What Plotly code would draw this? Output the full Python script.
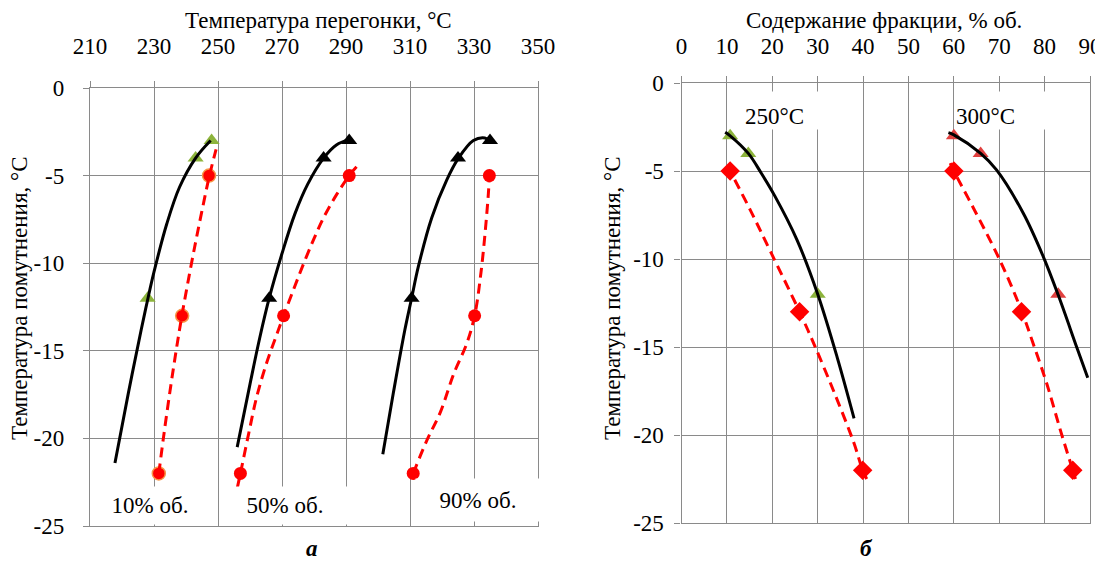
import plotly.graph_objects as go

# page body adds an 8px margin; the figure is sized and positioned to compensate
OFF = 8
W, H = 1103 - OFF, 565 - OFF

# ---------------- axis ticks ----------------
temp_ticks = [210, 230, 250, 270, 290, 310, 330, 350]
frac_ticks = [0, 10, 20, 30, 40, 50, 60, 70, 80, 90]
cloud_ticks = [0, -5, -10, -15, -20, -25]
cloud_tick_labels = ["0", "-5", "-10", "-15", "-20", "-25"]

# ---------------- panel a: markers ----------------
tri_cloud = [-12, -4, -3]
cir_cloud = [-22, -13, -5]
t10_tri = [228, 243, 248]
t10_cir = [231.5, 238.8, 247.2]
t50_tri = [266, 283, 291]
t50_cir = [257, 270.5, 291]
t90_tri = [310.5, 325, 335]
t90_cir = [311, 330.2, 334.8]

# ---------------- panel a: trend curves ----------------
c10_black_t = [217.8, 222, 226, 228, 230, 234, 238, 243, 247.7]
c10_black_y = [-21.4, -17.4, -13.8, -12.1, -10.5, -7.75, -5.65, -4.0, -3.0]
c10_red_t = [231.5, 233, 235, 237, 238.8, 241, 243, 245, 247.2, 249.4]
c10_red_y = [-22.0, -19.9, -17.3, -14.9, -12.9, -10.7, -8.8, -7.0, -5.1, -3.5]
c50_black_t = [256, 260, 263, 266, 270, 274, 278, 283, 287, 291]
c50_black_y = [-20.5, -16.9, -14.3, -12.0, -9.45, -7.2, -5.5, -4.0, -3.25, -2.95]
c50_red_t = [256, 257, 259.5, 262, 265, 268, 270.5, 273.5, 276.7, 280, 283, 287, 291, 293.3]
c50_red_y = [-22.85, -22.0, -19.8, -17.7, -15.8, -14.25, -13.0, -11.55, -10.05, -8.6, -7.4, -6.1, -5.0, -4.5]
c90_black_t = [301.5, 304.8, 308.4, 310.5, 312.6, 316.8, 321.5, 325, 329.8, 333.4, 335.2]
c90_black_y = [-20.9, -17.4, -13.8, -12.0, -10.2, -7.4, -5.25, -4.05, -3.0, -2.85, -3.05]
c90_red_t = [311, 315.3, 319.5, 323.7, 327.7, 330.2, 332.2, 333.6, 334.5, 334.8]
c90_red_y = [-22.0, -20.1, -18.5, -16.3, -14.6, -13.0, -10.5, -8.0, -6.0, -5.0]

# ---------------- panel б: markers ----------------
tri_cloud_r = [-3, -4, -12]
dia_cloud_r = [-5, -13, -22]
f250_tri = [10.7, 14.7, 30.0]
f250_dia = [10.7, 26.0, 39.9]
f300_tri = [60.0, 65.9, 83.0]
f300_dia = [60.0, 74.9, 86.2]

# ---------------- panel б: trend curves ----------------
r250_black_x = [9.6, 10.7, 14.7, 17.5, 20.5, 25.4, 30.0, 34.3, 38.0]
r250_black_y = [-2.8, -3.0, -4.0, -5.1, -6.4, -8.9, -12.0, -15.6, -19.05]
r250_red_x = [10.1, 10.7, 15.2, 19.6, 26.0, 29.2, 33.5, 37.9, 39.9, 40.8]
r250_red_y = [-4.7, -5.0, -7.25, -9.58, -13.0, -14.85, -17.5, -20.4, -22.0, -22.5]
r300_black_x = [58.8, 60.0, 65.9, 69.4, 75.3, 79.7, 83.0, 87.2, 89.5]
r300_black_y = [-2.82, -2.95, -4.0, -4.94, -7.4, -9.86, -12.05, -15.1, -16.75]
r300_red_x = [59.2, 60.0, 64.3, 70.2, 75.0, 77.6, 80.5, 83.5, 86.2, 86.8]
r300_red_y = [-4.55, -5.0, -7.1, -10.1, -13.0, -14.9, -17.1, -19.75, -22.0, -22.5]

# ---------------- text ----------------
title_a_x = "Температура перегонки, °C"
title_b_x = "Содержание фракции, % об."
title_y = "Температура помутнения, °C"
labels_a = ["10% об.", "50% об.", "90% об."]
labels_b = ["250°C", "300°C"]
panel_names = ["а", "б"]

GREEN = "#8DB43C"
RED = "#FF0000"
TRI_RED = "#E0403F"
ORANGE = "#F79646"
GRID = "#8A8A8A"
FONT = "Liberation Serif"
FS = 23


def fx(p):
    return (p - OFF) / W


def fy(p):
    return 1 - (p - OFF) / H


fig = go.Figure()


def markers(x, y, symbol, color, size, xa, ya, line_color=None, lw=0):
    fig.add_trace(go.Scatter(
        x=x, y=y, mode="markers", xaxis=xa, yaxis=ya, showlegend=False,
        marker=dict(symbol=symbol, color=color, size=size,
                    line=dict(color=line_color or color, width=lw))))


def curve(x, y, color, dash, xa, ya):
    fig.add_trace(go.Scatter(
        x=x, y=y, mode="lines", xaxis=xa, yaxis=ya, showlegend=False,
        line=dict(color=color, width=3, dash=dash, shape="spline", smoothing=1.0)))


# panel a markers
markers(t10_tri, tri_cloud, "triangle-up", GREEN, 14, "x", "y")
markers(t10_cir, cir_cloud, "circle", RED, 13, "x", "y", ORANGE, 1.5)
markers(t50_tri, tri_cloud, "triangle-up", "black", 14, "x", "y")
markers(t50_cir, cir_cloud, "circle", RED, 13, "x", "y")
markers(t90_tri, tri_cloud, "triangle-up", "black", 14, "x", "y")
markers(t90_cir, cir_cloud, "circle", RED, 13, "x", "y")
# panel a curves
curve(c10_black_t, c10_black_y, "black", "solid", "x", "y")
curve(c10_red_t, c10_red_y, RED, "10px,6px", "x", "y")
curve(c50_black_t, c50_black_y, "black", "solid", "x", "y")
curve(c50_red_t, c50_red_y, RED, "10px,6px", "x", "y")
curve(c90_black_t, c90_black_y, "black", "solid", "x", "y")
curve(c90_red_t, c90_red_y, RED, "10px,6px", "x", "y")

# panel б markers
markers(f250_tri, tri_cloud_r, "triangle-up", GREEN, 14, "x2", "y2")
markers(f250_dia, dia_cloud_r, "diamond", RED, 15, "x2", "y2")
markers(f300_tri, tri_cloud_r, "triangle-up", TRI_RED, 14, "x2", "y2")
markers(f300_dia, dia_cloud_r, "diamond", RED, 15, "x2", "y2")
# panel б curves
curve(r250_black_x, r250_black_y, "black", "solid", "x2", "y2")
curve(r250_red_x, r250_red_y, RED, "10px,6px", "x2", "y2")
curve(r300_black_x, r300_black_y, "black", "solid", "x2", "y2")
curve(r300_red_x, r300_red_y, RED, "10px,6px", "x2", "y2")

axis_common = dict(
    showgrid=True, gridcolor=GRID, gridwidth=1.3,
    showline=True, linecolor=GRID, linewidth=1.3, mirror=True,
    ticks="outside", ticklen=6, tickcolor=GRID, tickwidth=1.3,
    zeroline=False, automargin=False,
    tickfont=dict(family=FONT, size=FS, color="black"),
)

fig.update_layout(
    width=W, height=H, autosize=False,
    margin=dict(l=0, r=0, t=0, b=0, pad=0, autoexpand=False),
    paper_bgcolor="white", plot_bgcolor="white",
    font=dict(family=FONT, size=FS, color="black"),
    xaxis=dict(domain=[fx(90), fx(538)], range=[210, 350], side="top", anchor="y",
               tickvals=temp_ticks, ticktext=[str(v) for v in temp_ticks],
               ticklabelstandoff=18, **axis_common),
    yaxis=dict(domain=[fy(526), fy(88)], range=[-25, 0], anchor="x",
               tickvals=cloud_ticks, ticktext=cloud_tick_labels,
               ticklabelstandoff=14, **axis_common),
    xaxis2=dict(domain=[fx(681.6), fx(1090)], range=[0, 90], side="top", anchor="y2",
                tickvals=frac_ticks, ticktext=[str(v) for v in frac_ticks],
                ticklabelstandoff=13, **axis_common),
    yaxis2=dict(domain=[fy(523), fy(83)], range=[-25, 0], anchor="x2",
                tickvals=cloud_ticks, ticktext=cloud_tick_labels,
                ticklabelstandoff=6, **axis_common),
)

ann = []
# axis titles
ann.append(dict(text=title_a_x, x=fx(318), y=fy(20), xref="paper", yref="paper",
                xanchor="center", yanchor="middle", showarrow=False))
ann.append(dict(text=title_b_x, x=fx(884), y=fy(20), xref="paper", yref="paper",
                xanchor="center", yanchor="middle", showarrow=False))
ann.append(dict(text=title_y, x=fx(19), y=fy(298), xref="paper", yref="paper",
                xanchor="center", yanchor="middle", textangle=-90, showarrow=False))
ann.append(dict(text=title_y, x=fx(612), y=fy(298), xref="paper", yref="paper",
                xanchor="center", yanchor="middle", textangle=-90, showarrow=False))
# panel letters
ann.append(dict(text="<b><i>" + panel_names[0] + "</i></b>", x=fx(312), y=fy(548),
                xref="paper", yref="paper", xanchor="center", yanchor="middle", showarrow=False))
ann.append(dict(text="<b><i>" + panel_names[1] + "</i></b>", x=fx(866), y=fy(548),
                xref="paper", yref="paper", xanchor="center", yanchor="middle", showarrow=False))
# in-plot labels with white boxes
box_specs_a = [(150, 505, 104, 37), (285, 505, 124, 37), (478, 500, 124, 42)]
for txt, (cx, cy, w, h) in zip(labels_a, box_specs_a):
    ann.append(dict(text=txt, x=fx(cx), y=fy(cy), xref="paper", yref="paper",
                    xanchor="center", yanchor="middle", showarrow=False,
                    bgcolor="white", width=w, height=h, borderpad=0))
box_specs_b = [(795, 110.5, 100, 37), (1003, 110.5, 95, 37)]
for txt, (cx, cy, w, h) in zip(labels_b, box_specs_b):
    ann.append(dict(text=txt, x=fx(cx), y=fy(cy), xref="paper", yref="paper",
                    xanchor="center", yanchor="middle", showarrow=False,
                    bgcolor="white", width=w, height=h, borderpad=0,
                    align="left", valign="bottom"))
fig.update_layout(annotations=ann)

fig.write_html("out.html")
